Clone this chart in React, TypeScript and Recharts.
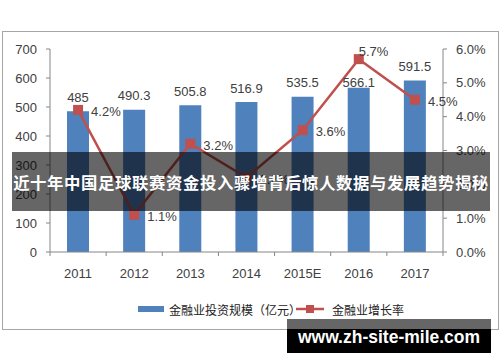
import React from 'react';
import { ComposedChart, Bar, Line, XAxis, YAxis, LabelList } from 'recharts';

const years = ['2011', '2012', '2013', '2014', '2015E', '2016', '2017'];
const investment = [485, 490.3, 505.8, 516.9, 535.5, 566.1, 591.5];
const growth = [4.2, 1.1, 3.2, 2.2, 3.6, 5.7, 4.5];
const leftTicks = [0, 100, 200, 300, 400, 500, 600, 700];
const rightTicks = [0, 1, 2, 3, 4, 5, 6];
const barName = '金融业投资规模（亿元）';
const lineName = '金融业增长率';
const bannerText = '近十年中国足球联赛资金投入骤增背后惊人数据与发展趋势揭秘';
const watermarkText = 'www.zh-site-mile.com';

const data = years.map((y, i) => ({ year: y, inv: investment[i], g: growth[i] }));

const BLUE = '#4f81bd';
const RED = '#c0504d';
const AXIS = '#868686';
const TEXT = '#404040';
const FONT = '"Liberation Sans", Arial, sans-serif';

const PLOT_LEFT = 50;
const PLOT_RIGHT = 443;
const BAND = (PLOT_RIGHT - PLOT_LEFT) / years.length;

const XTick = (props: any) => {
  const { x, y, payload, index } = props;
  return (
    <g>
      <line x1={x - BAND / 2} x2={x - BAND / 2} y1={y} y2={y + 4} stroke={AXIS} />
      {index === years.length - 1 && (
        <line x1={x + BAND / 2} x2={x + BAND / 2} y1={y} y2={y + 4} stroke={AXIS} />
      )}
      <text x={x} y={y + 21} textAnchor="middle" dominantBaseline="central" fill={TEXT} fontSize={13} fontFamily={FONT}>
        {payload.value}
      </text>
    </g>
  );
};

const SquareDot = (props: any) => {
  const { cx, cy } = props;
  if (cx == null || cy == null) return null;
  return <rect x={cx - 5} y={cy - 5} width={10} height={10} fill={RED} />;
};

const maxGrowthIndex = growth.indexOf(Math.max(...growth));

const LineLabel = (props: any) => {
  const { x, y, value, index } = props;
  const above = index === maxGrowthIndex;
  return (
    <text
      x={above ? x : x + 13}
      y={above ? y - 8 : y + 1.5}
      textAnchor="start"
      dominantBaseline="central"
      fill={TEXT}
      fontSize={13}
      fontFamily={FONT}
    >
      {Number(value).toFixed(1)}%
    </text>
  );
};

const BarLabel = (props: any) => {
  const { x, y, width, value, index } = props;
  const off = index === maxGrowthIndex ? 1 : 9.5;
  return (
    <text x={x + width / 2} y={y - off} textAnchor="middle" fill={TEXT} fontSize={13} fontFamily={FONT}>
      {value}
    </text>
  );
};

export default function App() {
  return (
    <div style={{ position: 'absolute', left: 0, top: 0, width: 500, height: 362, background: '#fff', overflow: 'hidden' }}>
      <div
        style={{
          position: 'absolute',
          left: 2,
          top: 31,
          width: 495,
          height: 297,
          border: '1px solid #a6a6a6',
        }}
      />
      <div style={{ position: 'absolute', left: 0, top: 0 }}>
        <ComposedChart width={500} height={362} data={data} margin={{ top: 49, right: 0, bottom: 80, left: 0 }} barCategoryGap={0}>
          <XAxis
            dataKey="year"
            stroke={AXIS}
            tickLine={false}
            tickSize={0}
            tickMargin={0}
            height={30}
            interval={0}
            tick={<XTick />}
          />
          <YAxis
            yAxisId="left"
            width={50}
            domain={[0, 700]}
            ticks={leftTicks}
            stroke={AXIS}
            tickSize={4}
            tickMargin={9}
            tick={{ fill: TEXT, fontSize: 13, fontFamily: FONT }}
            interval={0}
          />
          <YAxis
            yAxisId="right"
            orientation="right"
            width={57}
            domain={[0, 6]}
            ticks={rightTicks}
            stroke={AXIS}
            tickSize={4}
            tickMargin={9}
            tickFormatter={(v: number) => v.toFixed(1) + '%'}
            tick={{ fill: TEXT, fontSize: 13, fontFamily: FONT, textAnchor: 'start' }}
            interval={0}
          />
          <Bar yAxisId="left" dataKey="inv" name={barName} fill={BLUE} barSize={22} isAnimationActive={false}>
            <LabelList dataKey="inv" content={<BarLabel />} />
          </Bar>
          <Line
            yAxisId="right"
            dataKey="g"
            name={lineName}
            stroke={RED}
            strokeWidth={2.5}
            dot={<SquareDot />}
            activeDot={false}
            isAnimationActive={false}
          >
            <LabelList dataKey="g" content={<LineLabel />} />
          </Line>
        </ComposedChart>
      </div>
      {/* Legend */}
      <svg style={{ position: 'absolute', left: 0, top: 296 }} width={500} height={26}>
        <rect x={138} y={10} width={26} height={6} fill={BLUE} />
        <text x={169} y={13} dominantBaseline="central" fontSize={12} fill="#222" fontFamily='"Noto Sans CJK SC", sans-serif'>
          {barName}
        </text>
        <line x1={296} x2={324} y1={13} y2={13} stroke={RED} strokeWidth={2.5} />
        <rect x={306} y={9} width={8} height={8} fill={RED} />
        <text x={332} y={13} dominantBaseline="central" fontSize={12} fill="#222" fontFamily='"Noto Sans CJK SC", sans-serif'>
          {lineName}
        </text>
      </svg>
      {/* Banner */}
      <div
        style={{
          position: 'absolute',
          left: 12,
          top: 152,
          width: 478,
          height: 59,
          background: 'rgba(0,0,0,0.6)',
          color: '#fff',
          fontFamily: '"Noto Sans CJK SC", sans-serif',
          fontWeight: 700,
          fontSize: 16.4,
          letterSpacing: 0.6,
          lineHeight: '60px',
          textAlign: 'center',
          whiteSpace: 'nowrap',
        }}
      >
        {bannerText}
      </div>
      {/* Watermark */}
      <div style={{ position: 'absolute', left: 287, top: 319, width: 204, height: 10, background: '#666' }} />
      <div
        style={{
          position: 'absolute',
          left: 287,
          top: 329,
          width: 204,
          height: 24,
          background: '#000',
        }}
      />
      <div
        style={{
          position: 'absolute',
          left: 287,
          top: 319,
          width: 204,
          height: 34,
          color: '#fff',
          fontFamily: FONT,
          fontWeight: 700,
          fontSize: 17.5,
          lineHeight: '36px',
          textAlign: 'center',
          whiteSpace: 'nowrap',
        }}
      >
        {watermarkText}
      </div>
    </div>
  );
}
